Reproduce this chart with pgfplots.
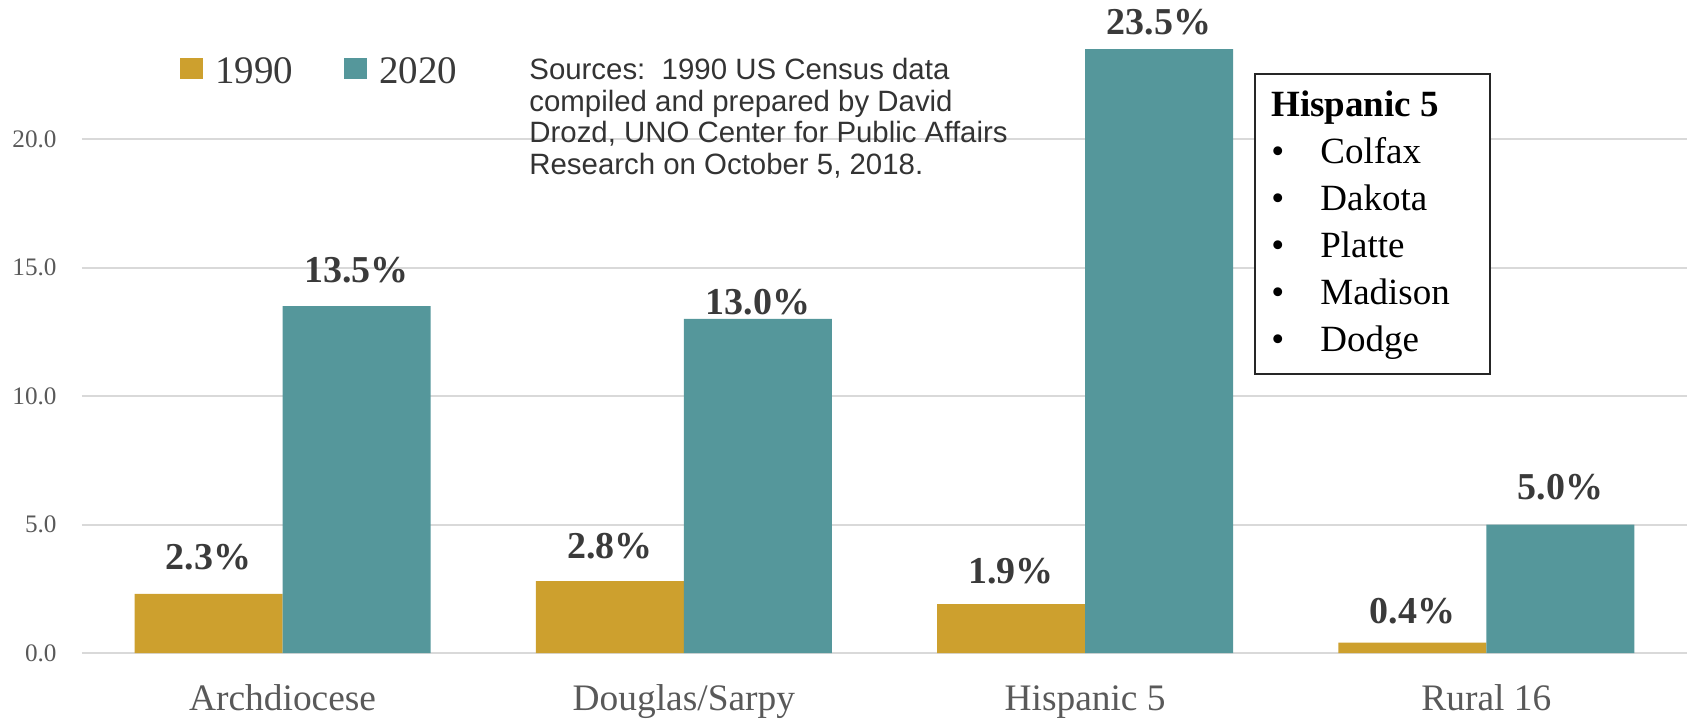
\documentclass[border=0pt]{standalone}
\usepackage{pgfplots}
\pgfplotsset{compat=1.18}
\usepackage{pgfplotstable}
\usepackage{fontspec}
\setmainfont{Liberation Serif}
\newfontfamily\arialfont{Liberation Sans}
\definecolor{gold}{HTML}{CDA02E}
\definecolor{teal2}{HTML}{55979B}
\definecolor{gridc}{HTML}{D9D9D9}
\definecolor{tickc}{HTML}{595959}
\definecolor{labc}{HTML}{3A3A3A}
\pgfplotstableread{
x y off
0 2.3 12
1 2.8 11.5
2 1.9 10.5
3 0.4 9.5
}\olddata
\pgfplotstableread{
x y off
0 13.5 12
1 13.0 2
2 23.5 7.5
3 5.0 12.5
}\newdata
\begin{document}
\begin{tikzpicture}
\begin{axis}[
  at={(0,0)}, anchor=south west,
  scale only axis, width=802.5pt, height=321.25pt,
  xmin=-0.5, xmax=3.5, ymin=0, ymax=25,
  clip=false,
  ybar, bar width=0.369,
  axis line style={draw=none},
  major tick length=0pt,
  ytick={0,5,10,15,20},
  ymajorgrids, grid style={draw=gridc, line width=1pt},
  yticklabel style={/pgf/number format/.cd, fixed, fixed zerofill, precision=1, assume math mode=true, /tikz/.cd,
     anchor=east, inner sep=0pt, xshift=-12.5pt, text=tickc, font=\fontsize{12.6}{14}\selectfont},
  xtick={0,1,2,3},
  xticklabels={Archdiocese, Douglas/Sarpy, Hispanic 5, Rural 16},
  xticklabel style={anchor=base, inner sep=0pt, yshift=-28.5pt, text=tickc, font=\fontsize{18.7}{22}\selectfont},
  legend style={at={(rel axis cs:0.0611,0.904)}, anchor=west, draw=none, fill=none, inner sep=0pt,
     nodes={inner sep=0pt},
     legend columns=2, font=\fontsize{19.5}{22}\selectfont, text=labc,
     /tikz/every odd column/.append style={column sep=6pt},
     /tikz/every even column/.append style={column sep=25.5pt}},
  legend image code/.code={\fill[#1,draw=none] (0pt,-3.5pt) rectangle (11.5pt,7pt);},
  visualization depends on={\thisrow{off}\as\myoff},
  nodes near coords={\pgfmathprintnumber[fixed,fixed zerofill,precision=1,assume math mode=true]{\pgfplotspointmeta}\%},
  point meta=y,
  every node near coord/.append style={anchor=base, inner sep=0pt, yshift=\myoff*1pt, text=labc,
     font=\bfseries\fontsize{19}{22}\selectfont},
]
\addplot[fill=gold, draw=none, bar shift=-0.1845] table[x=x,y=y] {\olddata};
\addplot[fill=teal2, draw=none, bar shift=0.1845] table[x=x,y=y] {\newdata};
\legend{1990,2020}
\node[anchor=north west, align=left, inner sep=0pt, text=black!80,
      font=\arialfont\fontsize{14.7}{15.75}\selectfont] at (rel axis cs:0.2785,0.926)
  {Sources:\ \ 1990 US Census data\\compiled and prepared by David\\Drozd, UNO Center for Public Affairs\\Research on October 5, 2018.};
\node[draw=black!85, line width=1pt, fill=white, anchor=north west, inner sep=0pt,
      minimum width=117.5pt, minimum height=150pt] at (rel axis cs:0.7302,0.9027) {};
\node[anchor=north west, align=left, inner sep=0pt, text=black,
      font=\fontsize{18.5}{23.5}\selectfont] at (rel axis cs:0.7408,0.8763)
  {\textbf{Hispanic 5}\\
   \makebox[24.5pt][l]{\textbullet}Colfax\\
   \makebox[24.5pt][l]{\textbullet}Dakota\\
   \makebox[24.5pt][l]{\textbullet}Platte\\
   \makebox[24.5pt][l]{\textbullet}Madison\\
   \makebox[24.5pt][l]{\textbullet}Dodge};
\end{axis}
\pgfresetboundingbox
\useasboundingbox (-41pt,-33pt) rectangle (803pt,326.5pt);
\end{tikzpicture}
\end{document}
